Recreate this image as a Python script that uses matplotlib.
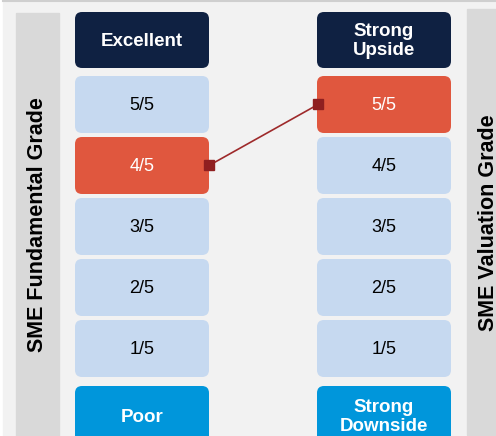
import matplotlib.pyplot as plt
from matplotlib.patches import FancyBboxPatch, Rectangle

plt.rcParams['font.family'] = ['Liberation Sans', 'DejaVu Sans']

# grade ladders, top to bottom
left_labels = ["Excellent", "5/5", "4/5", "3/5", "2/5", "1/5", "Poor"]
right_labels = ["Strong\nUpside", "5/5", "4/5", "3/5", "2/5", "1/5", "Strong\nDownside"]
grades = [5, 4, 3, 2, 1]
fundamental_grade = 4
valuation_grade = 5
left_title = "SME Fundamental Grade"
right_title = "SME Valuation Grade"

NAVY = "#0f2142"
LIGHT = "#c6d9f0"
RED = "#e0573e"
BLUE = "#0096db"
LINK = "#9e2a2b"

W, H = 496, 436
dpi = 100
fig = plt.figure(figsize=(W / dpi, H / dpi), dpi=dpi)
fig.patch.set_facecolor("white")
ax = fig.add_axes([0, 0, 1, 1])
ax.set_xlim(0, W)
ax.set_ylim(H, 0)
ax.axis("off")

# page background and side strips
ax.add_patch(Rectangle((3, 0), W, H, color="#f2f2f2", zorder=0))
ax.plot([3, W], [0.7, 0.7], color="#cfcfcf", lw=1.5, zorder=1)
ax.add_patch(Rectangle((16, 13), 43, H, color="#d9d9d9", zorder=1))
ax.add_patch(Rectangle((467, 9), 40, 426, color="#d9d9d9", zorder=1))

ax.text(38, 225, left_title, rotation=90, ha="center", va="center",
        fontsize=15.5, fontweight="bold", color="black", zorder=3)
ax.text(488, 223, right_title, rotation=90, ha="center", va="center",
        fontsize=15.5, fontweight="bold", color="black", zorder=3)

row_top = [12, 76, 137, 198, 259, 320, 386]
row_h = [56, 57, 57, 57, 57, 57, 60]
col_x = {"left": 75, "right": 317}
box_w = 134
rad = 7


def row_center(i):
    return row_top[i] + row_h[i] / 2


def draw_column(x0, labels, selected):
    for i, lab in enumerate(labels):
        if i == 0:
            fc, tc, fw, fs = NAVY, "white", "bold", 13.5
        elif i == len(labels) - 1:
            fc, tc, fw, fs = BLUE, "white", "bold", 13.5
        else:
            g = grades[i - 1]
            if g == selected:
                fc, tc = RED, "white"
            else:
                fc, tc = LIGHT, "black"
            fw, fs = "normal", 13
        box = FancyBboxPatch((x0 + rad, row_top[i] + rad), box_w - 2 * rad,
                             row_h[i] - 2 * rad,
                             boxstyle=f"round,pad={rad},rounding_size={rad}",
                             fc=fc, ec="none", zorder=2)
        ax.add_patch(box)
        ax.text(x0 + box_w / 2, row_center(i) + 1, lab, ha="center", va="center",
                color=tc, fontsize=fs, fontweight=fw, linespacing=1.1, zorder=3)


draw_column(col_x["left"], left_labels, fundamental_grade)
draw_column(col_x["right"], right_labels, valuation_grade)

# connector between the two selected grades
li = grades.index(fundamental_grade) + 1
ri = grades.index(valuation_grade) + 1
xs = [col_x["left"] + box_w, col_x["right"] + 1]
ys = [row_center(li), row_center(ri)]
ax.plot(xs, ys, color=LINK, lw=1.2, zorder=4)
ax.plot(xs, ys, ls="none", marker="s", ms=6.5, color="#8f1f20", zorder=5)

fig.savefig("out.png", dpi=dpi)
plt.close()
